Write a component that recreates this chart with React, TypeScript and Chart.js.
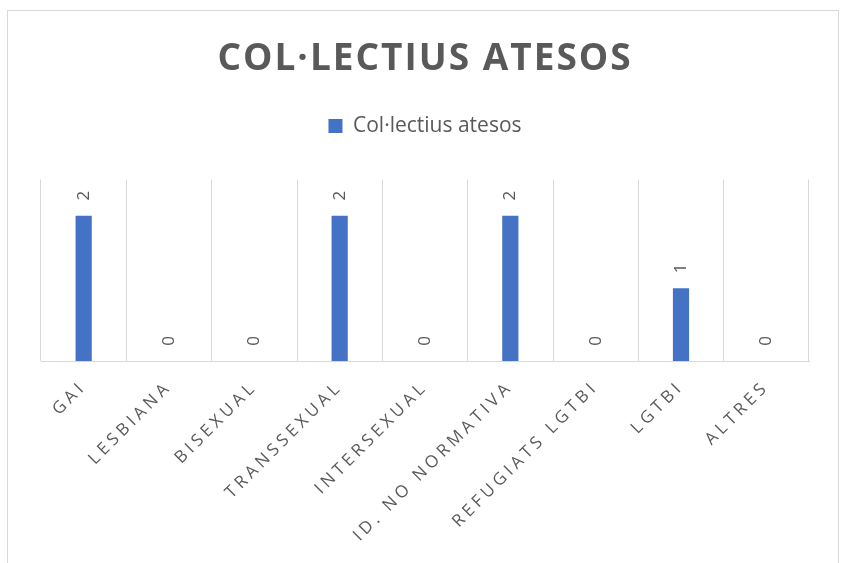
import React, { useEffect, useRef } from "react";
import { Chart, registerables } from "chart.js";

Chart.register(...registerables);

const categories = [
  "GAI",
  "LESBIANA",
  "BISEXUAL",
  "TRANSSEXUAL",
  "INTERSEXUAL",
  "ID. NO NORMATIVA",
  "REFUGIATS LGTBI",
  "LGTBI",
  "ALTRES",
];
const seriesName = "Col·lectius atesos";
const values = [2, 0, 0, 2, 0, 2, 0, 1, 0];
const chartTitle = "COL·LECTIUS ATESOS";

const TEXT = "#595959";
const GRID = "#d9d9d9";
const BAR = "#4472C4";
const FONT = "'Open Sans', 'Noto Sans', sans-serif";

const frame = {
  id: "frame",
  beforeDraw(chart: any) {
    const c = chart.ctx;
    c.save();
    c.fillStyle = "#ffffff";
    c.fillRect(0, 0, chart.width, chart.height);
    c.strokeStyle = GRID;
    c.lineWidth = 1;
    c.strokeRect(7.5, 10.5, 831, 600);
    c.restore();
  },
};

const dataLabels = {
  id: "dataLabels",
  afterDatasetsDraw(chart: any) {
    const c = chart.ctx;
    const meta = chart.getDatasetMeta(0);
    const ds = chart.data.datasets[0];
    c.save();
    c.letterSpacing = "0px";
    c.fillStyle = TEXT;
    c.font = `17px ${FONT}`;
    c.textAlign = "center";
    c.textBaseline = "middle";
    meta.data.forEach((el: any, i: number) => {
      c.save();
      c.translate(el.x, el.y - 20);
      c.rotate(-Math.PI / 2);
      c.fillText(String(ds.data[i]), 0, 0);
      c.restore();
    });
    c.restore();
  },
};

function withSpacing(obj: any, key: string, spacing: string) {
  const orig = obj[key];
  obj[key] = function (...args: any[]) {
    const c = this.ctx;
    const prev = c.letterSpacing;
    c.letterSpacing = spacing;
    try {
      return orig.apply(this, args);
    } finally {
      c.letterSpacing = prev;
    }
  };
}

export default function App() {
  const ref = useRef<HTMLCanvasElement | null>(null);
  useEffect(() => {
    if (!ref.current) return;
    const chart = new Chart(ref.current, {
      type: "bar",
      data: {
        labels: categories,
        datasets: [
          {
            label: seriesName,
            data: values,
            backgroundColor: BAR,
            borderWidth: 0,
            categoryPercentage: 1,
            barPercentage: 0.19,
          },
        ],
      },
      options: {
        animation: false,
        responsive: false,
        devicePixelRatio: 1,
        layout: { padding: { left: 41, right: 34, top: 0, bottom: 0 } },
        plugins: {
          tooltip: { enabled: false },
          title: {
            display: true,
            text: chartTitle,
            color: TEXT,
            font: { family: FONT, size: 37, weight: "bold", lineHeight: 1.2 },
            padding: { top: 37, bottom: 24 },
          },
          legend: {
            display: true,
            labels: {
              color: TEXT,
              boxWidth: 14,
              boxHeight: 14,
              font: { family: FONT, size: 21 },
              padding: 10,
            },
          },
        },
        scales: {
          x: {
            grid: {
              offset: true,
              color: GRID,
              lineWidth: 1,
              drawTicks: false,
            },
            border: { display: true, color: GRID, width: 1 },
            ticks: {
              color: TEXT,
              font: { family: FONT, size: 17 },
              minRotation: 45,
              maxRotation: 45,
              padding: 16,
              autoSkip: false,
            },
            afterFit(scale: any) {
              scale.height = 202;
            },
          },
          y: {
            display: false,
            min: 0,
            max: 2.5,
          },
        },
      },
      plugins: [frame, dataLabels],
    } as any);
    const legend = (chart as any).legend;
    const origFit = legend.fit;
    legend.fit = function (...args: any[]) {
      const r = origFit.apply(this, args);
      this.height += 33;
      return r;
    };
    withSpacing(chart as any, "draw", "0px");
    withSpacing((chart as any).titleBlock, "draw", "2px");
    withSpacing((chart as any).scales.x, "drawLabels", "4px");
    chart.update();
    return () => chart.destroy();
  }, []);
  return (
    <div style={{ position: "fixed", left: 0, top: 0, width: 843, height: 563 }}>
      <canvas ref={ref} width={843} height={563} style={{ display: "block" }} />
    </div>
  );
}
